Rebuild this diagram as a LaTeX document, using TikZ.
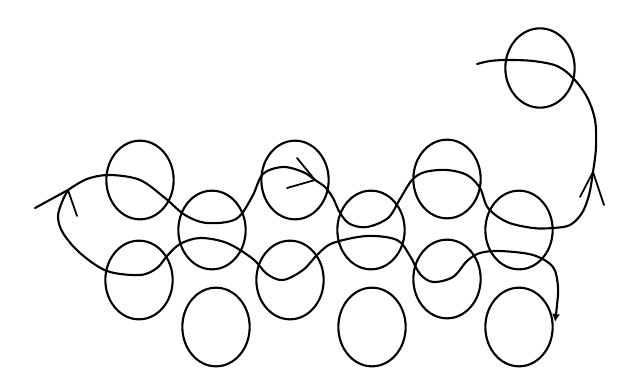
\documentclass[tikz,border=0pt]{standalone}
\usetikzlibrary{shapes.geometric,arrows.meta}
\begin{document}
\begin{tikzpicture}[x=0.3mm,y=-0.3mm,
  ring/.style={draw=black,ellipse,line width=1.8pt,inner sep=0pt,minimum width=20.2mm,minimum height=23.6mm},
  thread/.style={draw=black,line width=1.8pt,line cap=round,line join=round},
  barb/.style={draw=black,line width=1.5pt,line cap=round}]
\useasboundingbox (0,0) rectangle (623,386);
% loops
\node[ring] (c1t) at (140,180) {};
\node[ring] (c1b) at (139,280) {};
\node[ring] (c2m) at (212,230) {};
\node[ring] (c2b) at (216,327) {};
\node[ring] (c3t) at (295,180) {};
\node[ring] (c3b) at (290,280) {};
\node[ring] (c4m) at (371,230) {};
\node[ring] (c4b) at (372,327) {};
\node[ring] (c5t) at (447,179) {};
\node[ring] (c5b) at (447,279) {};
\node[ring] (c6m) at (519,230) {};
\node[ring] (c6b) at (519,327) {};
\node[ring,minimum width=20.8mm,minimum height=23.8mm] (ctr) at (540,68) {};
% key points
\coordinate (start) at (35,208);
\coordinate (fork) at (68,190);
\coordinate (tipA) at (315,180);
\coordinate (tipB) at (593,172);
\coordinate (endU) at (477,64);
\coordinate (endL) at (555,322);
% upper strand
\draw[thread] (start) -- (fork);
\draw[thread] plot[smooth,tension=0.55] coordinates {
 (68,190) (87,179) (110,175) (140,180) (165,198) (185,215) (207,223) (236,219)
 (252,197) (263,174) (283,167) (303,172) (315,180) (325,187) (333,198) (340,213)
 (350,224) (367,227) (388,218) (400,199) (412,180) (425,172) (447,170) (467,175)
 (480,188) (488,208) (507,222) (533,228) (553,228) (570,225) (582,213) (589,195)
 (593,172) (596,147) (595,120) (587,97) (573,78) (557,66) (533,61) (507,60)
 (490,61) (477,64)};
% lower strand
\draw[thread,-{Latex[length=2.4mm,width=2.4mm]}] plot[smooth,tension=0.55] coordinates {
 (68,190) (62,202) (58,217) (63,233) (80,253) (107,271) (140,275) (157,268)
 (167,256) (180,244) (200,238) (227,243) (253,259) (267,274) (283,280) (303,270)
 (318,254) (333,243) (367,236) (397,240) (410,256) (420,274) (433,282) (453,277)
 (467,261) (480,253) (500,251) (533,255) (553,267) (558,287) (557,305) (555,322)};
% arrow barbs
\draw[barb] (fork) -- (77,216);
\draw[barb] (tipA) -- (297,158);
\draw[barb] (tipA) -- (287,188);
\draw[barb] (tipB) -- (580,197);
\draw[barb] (tipB) -- (604,205);
\end{tikzpicture}
\end{document}
